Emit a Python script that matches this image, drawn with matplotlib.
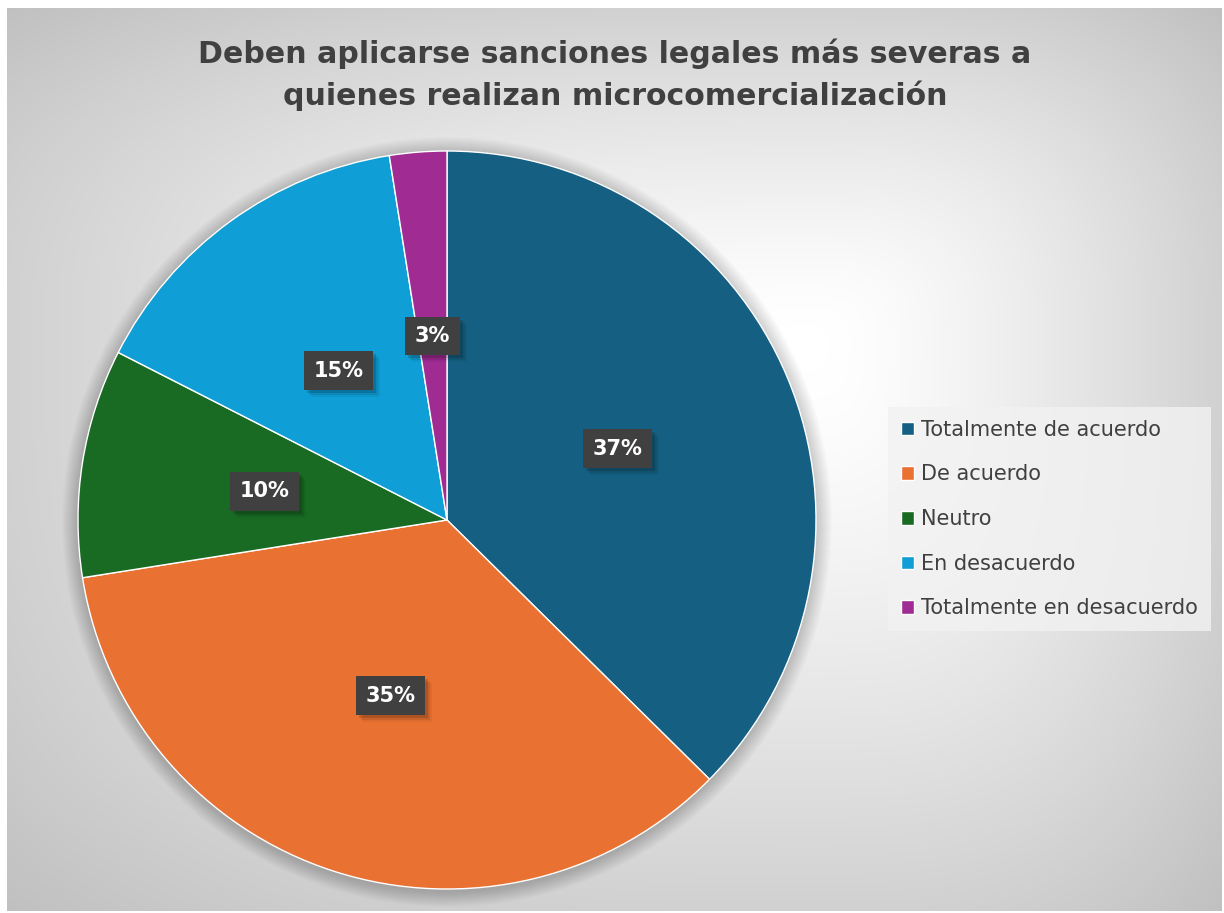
import matplotlib.pyplot as plt
from matplotlib.patches import Rectangle, Circle
from matplotlib.transforms import IdentityTransform
import numpy as np

# datos (porcentaje de respuestas)
categorias = ["Totalmente de acuerdo", "De acuerdo", "Neutro",
              "En desacuerdo", "Totalmente en desacuerdo"]
valores = [37.4, 35.1, 10.0, 15.0, 2.5]
etiquetas = ["37%", "35%", "10%", "15%", "3%"]
colores = ["#156082", "#E97132", "#196B24", "#0F9ED5", "#A02B93"]

titulo = "Deben aplicarse sanciones legales más severas a\nquienes realizan microcomercialización"

W, H = 1224, 913
fig = plt.figure(figsize=(W / 100, H / 100), dpi=100)
fig.patch.set_facecolor("white")

# fondo con degradado (desde un punto central hacia los bordes)
bg = fig.add_axes([7 / W, 2 / H, (W - 9) / W, (H - 10) / H])
yy, xx = np.mgrid[0:1:450j, 0:1:600j]
cxn, cyn = 0.66, 0.37
nx = np.where(xx > cxn, (xx - cxn) / (1 - cxn), (cxn - xx) / cxn)
ny = np.where(yy > cyn, (yy - cyn) / (1 - cyn), (cyn - yy) / cyn)
d = (nx ** 3 + ny ** 3) ** (1 / 3)
d = np.clip((d - 0.05) / 0.95, 0, None)
gris = np.clip(1.0 - 0.18 * d ** 1.3, 0.75, 1)
img = np.dstack([gris, gris, gris])
bg.imshow(img, aspect="auto", extent=[0, 1, 0, 1], origin="upper")
bg.set_axis_off()

# pastel
R = 369
cx, cy = 447, 520
ax = fig.add_axes([(cx - R) / W, (H - cy - R) / H, 2 * R / W, 2 * R / H])
ax.set_axis_off()

# sombra suave del pastel
for k in range(1, 17):
    ax.add_patch(Circle((0, -2 / R), 1 + k / R, fc=(0, 0, 0, 0.011),
                        ec="none", zorder=0, clip_on=False))

cuñas, textos = ax.pie(valores, colors=colores, startangle=90, counterclock=False,
                       radius=1.0, wedgeprops=dict(linewidth=1.0, edgecolor="white"))
for c in cuñas:
    c.set_zorder(2)
ax.set_xlim(-1, 1)
ax.set_ylim(-1, 1)

# etiquetas de datos con caja oscura
total = sum(valores)
ang = 90.0
cajas = []
for v, lab in zip(valores, etiquetas):
    medio = ang - v / total * 360 / 2
    ang -= v / total * 360
    x = 0.5 * np.cos(np.radians(medio))
    y = 0.5 * np.sin(np.radians(medio))
    t = ax.text(x, y, lab, ha="center", va="center", fontsize=15, fontweight="bold",
                color="white", family="DejaVu Sans", zorder=5,
                bbox=dict(boxstyle="square,pad=0.45", fc="#404040", ec="none"))
    cajas.append(t)

fig.text(615 / W, 1 - 75 / H, titulo, ha="center", va="center", fontsize=21.6,
         fontweight="bold", color="#404040", family="DejaVu Sans",
         linespacing=1.45)

leg = fig.legend(cuñas, categorias, loc="upper left",
                 bbox_to_anchor=(888 / W, 1 - 407 / H), frameon=True,
                 borderaxespad=0, labelspacing=1.18, handlelength=0.62,
                 handleheight=0.62, handletextpad=0.35, borderpad=0.62,
                 prop=dict(family="DejaVu Sans", size=15))
leg.get_frame().set_facecolor("#f2f2f2")
leg.get_frame().set_alpha(0.8)
leg.get_frame().set_edgecolor("none")
leg.get_frame().set_boxstyle("square,pad=0")
for t in leg.get_texts():
    t.set_color("#404040")

# sombras de las cajas (en pixeles)
fig.canvas.draw()
for t in cajas:
    bb = t.get_bbox_patch().get_window_extent()
    for k, a in [(7, 0.05), (5, 0.09), (3, 0.14)]:
        ax.add_patch(Rectangle((bb.x0 + k, bb.y0 - k), bb.width, bb.height,
                               transform=IdentityTransform(), fc=(0, 0, 0, a),
                               ec="none", zorder=4, clip_on=False))

fig.savefig("out.png", dpi=100)
